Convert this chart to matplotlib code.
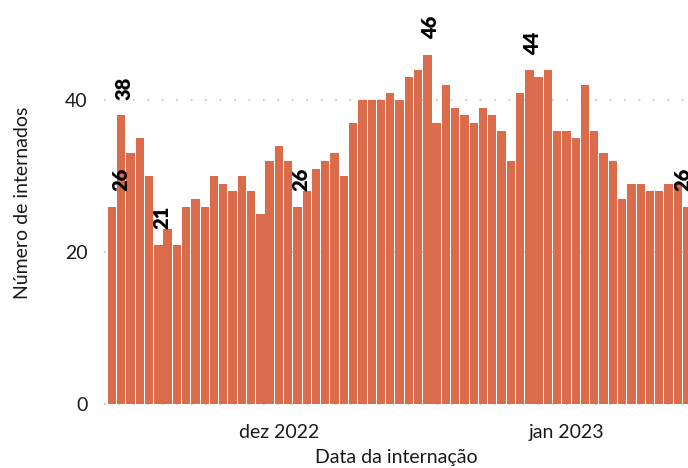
import numpy as np
import pandas as pd
import matplotlib
matplotlib.use("Agg")
import matplotlib.pyplot as plt
import matplotlib.dates as mdates

plt.rcParams['font.family'] = ['Lato', 'DejaVu Sans']

# Data (daily admissions)
dates = pd.date_range("2022-11-13", periods=63, freq="D")
internados = [26, 38, 33, 35, 30, 21, 23, 21, 26, 27, 26, 30, 29, 28, 30, 28,
              25, 32, 34, 32, 26, 28, 31, 32, 33, 30, 37, 40, 40, 40, 41, 40,
              43, 44, 46, 37, 42, 39, 38, 37, 39, 38, 36, 32, 41, 44, 43, 44,
              36, 36, 35, 42, 36, 33, 32, 27, 29, 29, 28, 28, 29, 29, 26]
label_idx = [0, 1, 5, 20, 34, 45, 62]
label_nudge = [0.95, 0.35, 0.35, 0.35, 0.35, 0.35, -0.4]  # days
meses = ["jan", "fev", "mar", "abr", "mai", "jun", "jul", "ago", "set",
         "out", "nov", "dez"]

bar_color = "#DA6C4C"

fig = plt.figure(figsize=(6.88, 4.68), dpi=100)
ax = fig.add_axes([104 / 688, (468 - 406) / 468, 1 - 104 / 688, 406 / 468])

x = mdates.date2num(dates)
ax.bar(x, internados, width=0.9, color=bar_color, zorder=2)

for i, dx in zip(label_idx, label_nudge):
    ax.annotate(str(internados[i]), (x[i] + dx, internados[i]),
                xytext=(0, 11), textcoords="offset points",
                rotation=90, ha="center", va="bottom",
                fontsize=14.5, fontweight="heavy", color="black", zorder=3)

ax.set_xlim(x[0] - 0.86, x[-1] + 0.1)
ax.set_ylim(-0.25, 53.2)
ax.set_yticks([0, 20, 40])
ax.yaxis.grid(True, color="#c8c8c8", linestyle=(0, (1, 7)), linewidth=1.3)
ax.set_axisbelow(True)

ax.xaxis.set_major_locator(mdates.MonthLocator())
ax.xaxis.set_major_formatter(plt.FuncFormatter(
    lambda v, p: f"{meses[mdates.num2date(v).month - 1]} {mdates.num2date(v).year}"))

for s in ax.spines.values():
    s.set_visible(False)
ax.tick_params(length=0, labelsize=14, colors="#1a1a1a")
ax.tick_params(axis="x", pad=13)
ax.tick_params(axis="y", pad=12)

ax.set_xlabel("Data da internação", fontsize=14, color="#1a1a1a", labelpad=6)
ax.set_ylabel("Número de internados", fontsize=14, color="#1a1a1a", labelpad=24)

fig.savefig("out.png", dpi=100)
